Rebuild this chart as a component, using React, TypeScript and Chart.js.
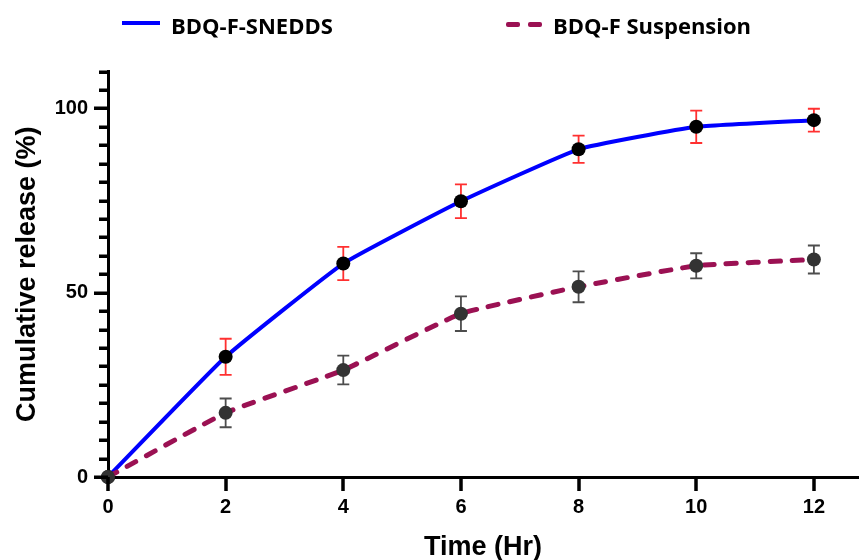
import { useEffect, useRef } from 'react';
import { Chart, registerables } from 'chart.js';

Chart.register(...registerables);

const times = [0, 2, 4, 6, 8, 10, 12];
const sneddsRelease = [0, 32.6, 57.9, 74.8, 88.9, 95.0, 96.8];
const sneddsSd = [0, 4.9, 4.5, 4.6, 3.7, 4.4, 3.1];
const suspensionRelease = [0, 17.4, 29.0, 44.3, 51.6, 57.3, 59.0];
const suspensionSd = [0, 3.9, 3.9, 4.7, 4.2, 3.4, 3.8];
const xTicks = [0, 2, 4, 6, 8, 10, 12];
const yTicks = [0, 50, 100];

const BLUE = '#0000ff';
const PURPLE = '#9b1153';
const FONT = '"Liberation Sans", Arial, sans-serif';

// draws the SD whiskers under the points
const errorBars = {
  id: 'errorBars',
  beforeDatasetsDraw(chart: any) {
    const { ctx, scales: { x, y } } = chart;
    ctx.save();
    chart.data.datasets.forEach((ds: any) => {
      ctx.strokeStyle = ds.errorColor;
      ctx.lineWidth = 1.8;
      ds.data.forEach((p: any, i: number) => {
        const e = ds.errors[i];
        if (!e) return;
        const px = x.getPixelForValue(p.x);
        const top = y.getPixelForValue(p.y + e);
        const bot = y.getPixelForValue(p.y - e);
        ctx.beginPath();
        ctx.moveTo(px, top);
        ctx.lineTo(px, bot);
        ctx.moveTo(px - 6, top);
        ctx.lineTo(px + 6, top);
        ctx.moveTo(px - 6, bot);
        ctx.lineTo(px + 6, bot);
        ctx.stroke();
      });
    });
    ctx.restore();
  },
};

// tick marks: long ones at the labelled values, short ones every 5 % on y
const axisTicks = {
  id: 'axisTicks',
  afterDraw(chart: any) {
    const { ctx, scales: { x, y }, chartArea } = chart;
    ctx.save();
    ctx.fillStyle = '#000';
    for (let v = 0; v <= 110; v += 5) {
      const py = Math.round(y.getPixelForValue(v));
      const len = yTicks.includes(v) ? 14 : 9;
      ctx.fillRect(chartArea.left - len, py - 1.5, len, 3.5);
    }
    for (const v of xTicks) {
      const px = Math.round(x.getPixelForValue(v));
      ctx.fillRect(px - 1.75, chartArea.bottom, 3.5, 14);
    }
    ctx.restore();
  },
};

const App = () => {
  const canvasRef = useRef<HTMLCanvasElement>(null);

  useEffect(() => {
    if (!canvasRef.current) return;
    const chart = new Chart(canvasRef.current, {
      type: 'line',
      data: {
        datasets: [
          {
            label: 'BDQ-F-SNEDDS',
            data: times.map((t, i) => ({ x: t, y: sneddsRelease[i] })),
            borderColor: BLUE,
            borderWidth: 4,
            pointRadius: 7,
            pointBackgroundColor: '#000',
            pointBorderWidth: 0,
            tension: 0.12,
            clip: false,
            order: 1,
            errors: sneddsSd,
            errorColor: '#ff3030',
          } as any,
          {
            label: 'BDQ-F Suspension',
            data: times.map((t, i) => ({ x: t, y: suspensionRelease[i] })),
            borderColor: PURPLE,
            borderWidth: 5,
            borderDash: [10, 12],
            borderCapStyle: 'round',
            pointRadius: 7,
            pointBackgroundColor: '#333',
            pointBorderWidth: 0,
            tension: 0.12,
            clip: false,
            order: 0,
            errors: suspensionSd,
            errorColor: '#4d4d4d',
          } as any,
        ],
      },
      options: {
        animation: false,
        responsive: false,
        layout: { padding: { top: 71.5, left: 0, right: 0, bottom: 0 } },
        plugins: { legend: { display: false }, tooltip: { enabled: false } },
        scales: {
          x: {
            type: 'linear',
            min: 0,
            max: 12.75,
            afterBuildTicks: (s: any) => { s.ticks = xTicks.map(v => ({ value: v })); },
            afterFit: (s: any) => { s.height = 83; },
            grid: { display: false, drawTicks: true, tickLength: 14 },
            border: { display: true, width: 3, color: '#000' },
            ticks: {
              color: '#000',
              padding: 4,
              font: { family: FONT, size: 20, weight: 'bold' },
            },
            title: {
              display: true,
              text: 'Time (Hr)',
              color: '#000',
              padding: { top: 0, bottom: 0 },
              font: { family: FONT, size: 27, weight: 'bold', lineHeight: 0.9 },
            },
          },
          y: {
            min: 0,
            max: 110,
            afterBuildTicks: (s: any) => { s.ticks = yTicks.map(v => ({ value: v })); },
            afterFit: (s: any) => { s.width = 108; },
            grid: { display: false, drawTicks: true, tickLength: 14 },
            border: { display: true, width: 3, color: '#000' },
            ticks: {
              color: '#000',
              padding: 6,
              font: { family: FONT, size: 20, weight: 'bold' },
            },
            title: {
              display: true,
              text: 'Cumulative release (%)',
              color: '#000',
              padding: { top: 14, bottom: 0 },
              font: { family: FONT, size: 27, weight: 'bold', lineHeight: 1 },
            },
          },
        },
      },
      plugins: [errorBars, axisTicks],
    });
    return () => chart.destroy();
  }, []);

  const legendText = {
    position: 'absolute' as const,
    top: 13.5,
    fontFamily: '"Open Sans", sans-serif',
    fontWeight: 'bold' as const,
    fontSize: 22,
    lineHeight: '22px',
    color: '#000',
    whiteSpace: 'nowrap' as const,
  };

  return (
    <div style={{ position: 'fixed', left: 0, top: 0, width: 865, height: 560, background: '#fff' }}>
      <canvas ref={canvasRef} width={865} height={560} style={{ display: 'block' }} />
      <div style={{ position: 'absolute', left: 122, top: 21, width: 38, height: 4, background: BLUE }} />
      <div style={{ ...legendText, left: 171 }}>BDQ-F-SNEDDS</div>
      <div style={{ position: 'absolute', left: 506, top: 21.5, width: 14, height: 5, borderRadius: 2, background: PURPLE }} />
      <div style={{ position: 'absolute', left: 528, top: 21.5, width: 14, height: 5, borderRadius: 2, background: PURPLE }} />
      <div style={{ ...legendText, left: 553 }}>BDQ-F Suspension</div>
    </div>
  );
};

export default App;
